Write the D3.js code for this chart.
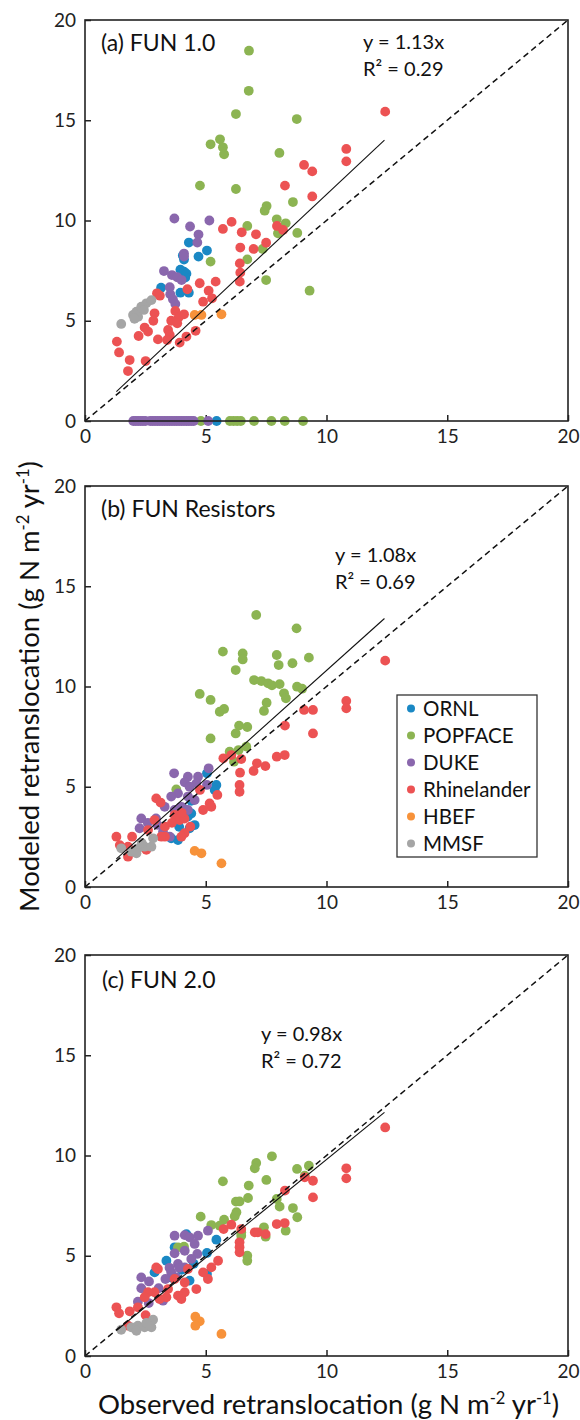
<!DOCTYPE html>
<html>
<head>
<meta charset="utf-8">
<script src="https://cdn.jsdelivr.net/npm/d3@7"></script>
<style>
  body { margin: 0; background: #fff; }
  svg { font-family: Lato, "Open Sans", sans-serif; }
</style>
</head>
<body>
<div id="chart"></div>
<script>
// sites, colours and labels
var sites = ["ORNL", "POPFACE", "DUKE", "Rhinelander", "HBEF", "MMSF"];
var siteColors = ["#1a88c4", "#8cb452", "#8a67ad", "#ec5253", "#f7923a", "#a5a5a5"];
var panelTitles = ["(a) FUN 1.0", "(b) FUN Resistors", "(c) FUN 2.0"];
var slopes = [1.13, 1.08, 0.98];
var rSquared = ["0.29", "0.69", "0.72"];
var fitRange = [1.3, 12.4];
var ticks = [0, 5, 10, 15, 20];

// [observed, modeled] pairs
// (a) FUN 1.0
var aORNL = [[4.3,8.9],[5.05,8.5],[4.7,8.2],[4.05,8.25],[4.1,8.05],[3.95,7.55],[4.1,7.45],[4.0,7.3],[4.2,7.35],[4.15,7.15],[3.15,6.65],[3.95,6.4],[4.3,6.4],[5.45,0]];
var aPOPFACE = [[6.79,18.47],[6.78,16.47],[6.25,15.31],[8.77,15.06],[5.59,14.05],[5.2,13.8],[5.71,13.65],[5.76,13.3],[8.05,13.37],[4.76,11.74],[6.25,11.57],[8.61,10.92],[7.52,10.72],[7.44,10.49],[7.94,10.06],[8.31,9.86],[6.72,9.73],[7.99,9.36],[8.79,9.38],[7.36,8.58],[5.2,7.95],[6.72,8.06],[7.5,7.03],[9.3,6.5],
  [4.8,0],[6.0,0],[6.15,0],[6.3,0],[6.45,0],[7.0,0],[7.72,0],[8.27,0],[9.03,0]];
var aDUKE = [[3.7,10.1],[5.15,10.0],[4.35,9.7],[4.7,9.3],[4.65,8.9],[4.1,8.35],[4.1,8.2],[3.27,7.48],[3.6,7.28],[3.82,7.17],[4.0,7.03],[3.51,6.67],[3.53,6.32],[3.64,6.07],[3.74,5.84],
  [2.0,0],[2.1,0],[2.2,0],[2.3,0],[2.4,0],[2.5,0],[2.7,0],[2.8,0],[2.9,0],[3.0,0],[3.1,0],[3.2,0],[3.3,0],[3.4,0],[3.5,0],[3.6,0],[3.7,0],[3.8,0],[3.9,0],[4.0,0],[4.1,0],[4.2,0],[4.3,0],[4.4,0],[4.5,0],[5.1,0]];
var aRhinelander = [[12.43,15.43],[10.82,13.57],[10.82,12.95],[9.07,12.77],[9.41,12.45],[8.28,11.74],[9.41,11.2],[6.07,9.93],[5.71,9.58],[6.49,9.41],[7.08,9.31],[7.95,9.73],[8.2,9.53],[7.5,8.89],[6.43,8.65],[6.98,8.58],[6.41,7.86],[6.43,7.4],[6.41,6.95],[4.75,6.87],[5.41,6.95],[5.12,6.5],[5.26,6.12],[4.89,5.95],[4.24,6.57],[2.98,6.37],[3.1,6.25],[3.74,5.49],[3.88,5.17],[4.1,5.32],[2.88,5.37],[2.83,5.0],[3.57,5.0],[3.82,4.87],[2.47,4.66],[2.61,4.46],[2.22,4.24],[3.44,4.54],[3.51,4.29],[3.02,4.07],[3.4,4.04],[3.92,3.91],[4.2,4.21],[4.58,4.5],[1.32,3.96],[1.41,3.42],[1.85,3.04],[2.51,2.99],[1.78,2.49]];
var aHBEF = [[4.54,5.29],[4.82,5.29],[5.65,5.32]];
var aMMSF = [[1.5,4.84],[1.99,5.29],[2.13,5.45],[2.33,5.7],[2.54,5.87],[2.75,6.03],[2.2,5.2],[2.44,5.54],[2.05,5.1]];

// (b) FUN Resistors
var bORNL = [[5.05,5.67],[5.44,5.09],[5.37,4.84],[4.4,3.67],[4.26,3.51],[3.57,2.43],[3.85,2.34],[4.33,2.93],[4.54,3.09],[4.1,3.9],[4.4,4.3],[3.9,3.0]];
var bPOPFACE = [[7.09,13.57],[8.76,12.9],[5.71,11.74],[6.53,11.65],[6.53,11.35],[7.94,11.57],[8.02,11.07],[8.59,11.16],[9.27,11.44],[6.24,10.82],[7.0,10.32],[7.3,10.27],[7.58,10.16],[7.74,10.06],[8.06,10.12],[8.78,9.99],[8.99,9.89],[8.24,9.66],[8.32,9.41],[4.75,9.63],[5.2,9.33],[5.58,8.74],[5.76,8.88],[7.52,9.19],[7.41,8.78],[6.38,8.05],[6.72,7.98],[6.24,7.66],[5.2,7.41],[5.99,6.75],[6.36,6.83],[6.68,7.0],[6.17,6.25],[3.78,4.87]];
var bDUKE = [[3.69,5.67],[4.26,5.5],[4.68,5.5],[5.12,5.92],[5.05,5.09],[4.13,5.22],[4.33,5.0],[4.61,5.17],[3.85,4.67],[3.57,4.51],[4.26,4.51],[4.54,4.34],[3.3,4.0],[3.71,3.84],[3.99,4.0],[4.26,3.84],[2.33,3.42],[2.26,2.93],[2.94,3.42],[3.23,2.76],[3.51,2.51],[3.0,3.1],[2.6,3.2]];
var bRhinelander = [[12.43,11.29],[10.82,9.28],[10.82,8.91],[9.07,8.83],[9.44,8.83],[8.28,8.05],[9.44,7.66],[5.73,6.42],[6.06,6.58],[6.47,6.38],[7.94,6.5],[8.27,6.58],[7.12,6.17],[7.47,6.03],[6.98,5.79],[6.42,5.7],[6.4,5.09],[6.4,4.75],[4.76,4.84],[5.48,4.59],[5.16,4.17],[5.23,4.0],[4.89,3.84],[2.95,4.42],[3.13,4.21],[3.71,3.59],[3.92,3.34],[4.12,3.41],[4.36,3.01],[4.12,2.68],[3.99,2.51],[3.31,3.01],[3.31,2.51],[2.88,3.34],[2.61,2.84],[3.16,2.51],[1.95,2.51],[1.3,2.51],[1.44,2.09],[1.78,1.51],[1.78,2.01],[2.54,1.85],[3.6,3.2],[4.0,3.7]];
var bHBEF = [[4.54,1.8],[4.82,1.68],[5.65,1.18]];
var bMMSF = [[1.5,1.93],[1.92,1.76],[2.2,1.93],[2.47,2.01],[2.75,2.01],[2.82,2.43],[2.13,1.68],[2.35,2.2]];

// (c) FUN 2.0
var cORNL = [[4.2,6.08],[5.44,5.8],[5.05,5.14],[3.71,5.42],[3.37,4.75],[2.88,4.17],[4.33,3.76],[5.05,4.09],[4.0,4.3],[3.6,3.9],[4.5,4.6]];
var cPOPFACE = [[7.74,9.96],[7.09,9.63],[7.03,9.36],[8.78,9.33],[9.27,9.49],[9.1,8.99],[5.71,8.71],[6.78,8.5],[7.51,8.78],[6.25,7.7],[6.4,7.71],[6.75,7.88],[7.94,7.83],[8.06,7.45],[8.61,7.38],[8.79,6.92],[6.27,7.17],[6.2,6.97],[4.79,6.95],[5.23,6.53],[5.76,6.8],[5.58,6.5],[7.41,6.42],[8.31,6.25],[7.48,5.95],[6.47,6.0],[6.47,6.17],[6.72,5.0],[6.72,4.75],[3.85,5.42],[4.1,5.45]];
var cDUKE = [[3.71,6.0],[4.13,6.03],[4.33,5.92],[4.68,6.0],[5.09,6.25],[3.71,5.12],[4.13,5.25],[4.54,5.59],[4.65,5.09],[4.4,4.84],[3.85,4.59],[3.57,4.17],[3.78,3.92],[4.13,4.42],[3.33,3.84],[3.05,3.38],[2.33,3.92],[2.65,3.72],[2.33,3.38],[2.19,2.71],[2.64,2.64],[3.23,2.76],[3.9,4.4],[3.5,4.4]];
var cRhinelander = [[12.43,11.4],[10.82,9.36],[10.82,8.86],[9.1,8.91],[9.44,8.74],[9.44,7.91],[8.28,8.25],[7.94,6.58],[8.27,6.63],[7.03,6.17],[7.16,6.17],[7.48,6.08],[6.06,6.55],[5.74,6.33],[6.47,6.33],[6.4,5.67],[6.4,5.42],[6.4,5.17],[5.51,4.75],[5.23,4.42],[4.89,4.17],[5.09,3.84],[4.26,4.34],[4.61,3.34],[4.13,3.67],[4.13,3.18],[3.85,3.01],[3.99,2.84],[3.71,3.84],[3.44,3.34],[3.37,2.93],[3.09,2.84],[2.95,4.42],[3.02,4.34],[2.88,3.18],[2.61,3.18],[2.47,2.93],[2.19,2.43],[1.85,2.23],[1.3,2.43],[1.41,2.13],[2.51,2.04],[1.78,1.51]];
var cHBEF = [[4.57,1.96],[4.75,1.73],[4.57,1.51],[5.65,1.1]];
var cMMSF = [[1.5,1.31],[1.92,1.43],[2.19,1.51],[2.47,1.43],[2.75,1.43],[2.82,1.81],[2.13,1.26],[2.54,1.65]];

var panelData = [
  [aORNL, aPOPFACE, aDUKE, aRhinelander, aHBEF, aMMSF],
  [bORNL, bPOPFACE, bDUKE, bRhinelander, bHBEF, bMMSF],
  [cORNL, cPOPFACE, cDUKE, cRhinelander, cHBEF, cMMSF]
];

// layout
var W = 580, H = 1420;
var left = 85, plotW = 483, plotH = 401;
var panelTops = [20, 486, 955];
var titlePos = [[101, 51], [101, 517], [102, 988]];
var eqPos = [[363, 49], [335, 562], [261, 1041]];

var svg = d3.select("#chart").append("svg")
  .attr("width", W)
  .attr("height", H);

var x = d3.scaleLinear().domain([0, 20]).range([0, plotW]);
var y = d3.scaleLinear().domain([0, 20]).range([plotH, 0]);

panelData.forEach(function(groups, p) {
  var g = svg.append("g")
    .attr("transform", "translate(" + left + "," + panelTops[p] + ")");

  // axes, ticks pointing inward
  var ya = g.append("g")
    .call(d3.axisLeft(y).tickValues(ticks).tickSize(-6).tickPadding(9));
  var xa = g.append("g")
    .attr("transform", "translate(0," + plotH + ")")
    .call(d3.axisBottom(x).tickValues(ticks).tickSize(-6).tickPadding(9));
  [ya, xa].forEach(function(a) {
    a.select(".domain").remove();
    a.selectAll("line").attr("stroke", "#222").attr("stroke-width", 1.5);
    a.selectAll("text").attr("font-size", 19).attr("fill", "#222")
      .style("font-family", "Lato, sans-serif");
  });

  // dots, site by site
  groups.forEach(function(pts, s) {
    g.append("g")
      .attr("fill", siteColors[s])
      .selectAll("circle")
      .data(pts)
      .enter().append("circle")
        .attr("cx", function(d) { return x(d[0]); })
        .attr("cy", function(d) { return y(d[1]); })
        .attr("r", 4.9);
  });

  // 1:1 line
  g.append("line")
    .attr("x1", x(0)).attr("y1", y(0))
    .attr("x2", x(20)).attr("y2", y(20))
    .attr("stroke", "#111").attr("stroke-width", 1.5)
    .attr("stroke-dasharray", "6,4");

  // fitted line y = b x
  g.append("line")
    .attr("x1", x(fitRange[0])).attr("y1", y(fitRange[0] * slopes[p]))
    .attr("x2", x(fitRange[1])).attr("y2", y(fitRange[1] * slopes[p]))
    .attr("stroke", "#111").attr("stroke-width", 1.1);

  // frame
  g.append("rect")
    .attr("width", plotW).attr("height", plotH)
    .attr("fill", "none").attr("stroke", "#222").attr("stroke-width", 1.6);

  // panel title and equation
  svg.append("text")
    .attr("x", titlePos[p][0]).attr("y", titlePos[p][1])
    .attr("font-size", 23).attr("fill", "#111")
    .text(panelTitles[p]);
  svg.append("text")
    .attr("x", eqPos[p][0]).attr("y", eqPos[p][1])
    .attr("font-size", 20).attr("fill", "#111")
    .text("y = " + slopes[p].toFixed(2) + "x");
  svg.append("text")
    .attr("x", eqPos[p][0]).attr("y", eqPos[p][1] + 27)
    .attr("font-size", 20).attr("fill", "#111")
    .text("R\u00B2 = " + rSquared[p]);
});

// legend in panel (b)
var leg = svg.append("g").attr("transform", "translate(397,695)");
leg.append("rect")
  .attr("width", 140).attr("height", 162)
  .attr("fill", "#fff").attr("stroke", "#333").attr("stroke-width", 1.3);
sites.forEach(function(s, i) {
  var row = leg.append("g").attr("transform", "translate(0," + (13.5 + i * 27) + ")");
  row.append("circle").attr("cx", 14).attr("cy", 0).attr("r", 4).attr("fill", siteColors[i]);
  row.append("text").attr("x", 26).attr("y", 0).attr("dy", "0.36em")
    .attr("font-size", 20.5).attr("fill", "#111").text(s);
});

// axis titles
function unitLabel(sel) {
  sel.append("tspan").text(" (g N m");
  sel.append("tspan").attr("dy", -10).attr("font-size", "0.6em").text("-2");
  sel.append("tspan").attr("dy", 10).text(" yr");
  sel.append("tspan").attr("dy", -10).attr("font-size", "0.6em").text("-1");
  sel.append("tspan").attr("dy", 10).text(")");
}
var xt = svg.append("text")
  .attr("x", left + plotW / 2 + 2).attr("y", 1414)
  .attr("text-anchor", "middle").attr("font-size", 27.5).attr("fill", "#111");
xt.append("tspan").text("Observed retranslocation");
unitLabel(xt);

var yt = svg.append("text")
  .attr("transform", "translate(39," + (panelTops[1] + plotH / 2) + ") rotate(-90)")
  .attr("text-anchor", "middle").attr("font-size", 27.5).attr("fill", "#111");
yt.append("tspan").text("Modeled retranslocation");
unitLabel(yt);
</script>
</body>
</html>
